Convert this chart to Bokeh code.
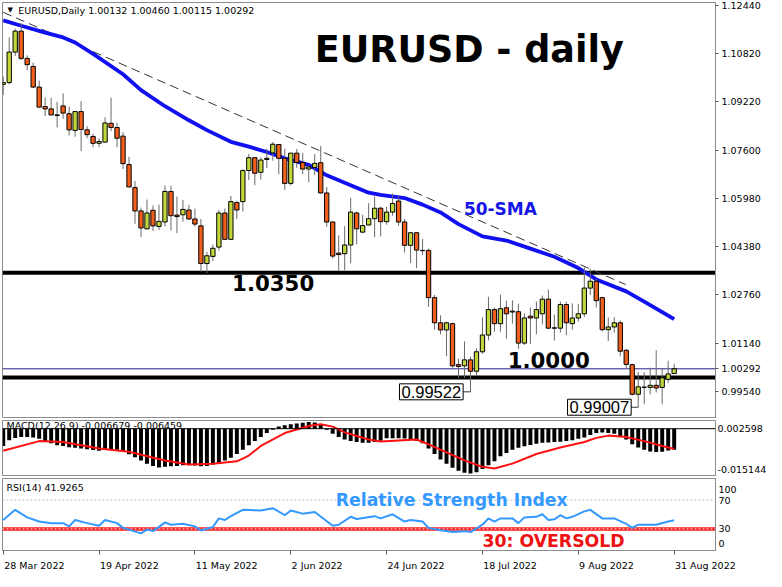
import numpy as np
from bokeh.plotting import figure
from bokeh.layouts import column
from bokeh.models import (Range1d, FixedTicker, NumeralTickFormatter, Label, Span,
                          ColumnDataSource, AllLabels, CustomJSTickFormatter)
from bokeh.embed import file_html
from bokeh.resources import INLINE

# ---------------- data ----------------
# bar index 0 = 28 Mar 2022 ... 112 = 31 Aug 2022 (trading days)
opens = [1.0980, 1.0986, 1.1088, 1.1158, 1.1067, 1.1040, 1.0971, 1.0906, 1.0898, 1.0878,
         1.0908, 1.0882, 1.0826, 1.0889, 1.0828, 1.0806, 1.0783, 1.0787, 1.0850, 1.0836,
         1.0807, 1.0712, 1.0635, 1.0557, 1.0497, 1.0559, 1.0505, 1.0520, 1.0622, 1.0543,
         1.0544, 1.0560, 1.0530, 1.0507, 1.0381, 1.0405, 1.0436, 1.0550, 1.0462, 1.0585,
         1.0588, 1.0692, 1.0735, 1.0686, 1.0729, 1.0751, 1.0779, 1.0733, 1.0649, 1.0750,
         1.0719, 1.0697, 1.0702, 1.0718, 1.0617, 1.0520, 1.0416, 1.0414, 1.0443, 1.0550,
         1.0486, 1.0510, 1.0531, 1.0566, 1.0521, 1.0553, 1.0590, 1.0520, 1.0442, 1.0484,
         1.0424, 1.0425, 1.0267, 1.0183, 1.0159, 1.0180, 1.0043, 1.0039, 1.0059, 1.0021,
         1.0086, 1.0142, 1.0227, 1.0180, 1.0233, 1.0219, 1.0220, 1.0115, 1.0205, 1.0199,
         1.0213, 1.0262, 1.0165, 1.0165, 1.0244, 1.0180, 1.0199, 1.0213, 1.0299, 1.0322,
         1.0267, 1.0160, 1.0169, 1.0183, 1.0091, 1.0043, 0.9944, 0.9968, 0.9967, 0.9974,
         0.9967, 0.9994, 1.00132]
highs = [1.1006, 1.1137, 1.1166, 1.1185, 1.1077, 1.1053, 1.0993, 1.0936, 1.0935, 1.0922,
         1.0950, 1.0906, 1.0891, 1.0924, 1.0840, 1.0815, 1.0800, 1.0870, 1.0936, 1.0852,
         1.0820, 1.0738, 1.0657, 1.0568, 1.0595, 1.0575, 1.0578, 1.0642, 1.0641, 1.0605,
         1.0594, 1.0577, 1.0565, 1.0530, 1.0420, 1.0445, 1.0560, 1.0565, 1.0607, 1.0591,
         1.0697, 1.0748, 1.0737, 1.0736, 1.0765, 1.0787, 1.0781, 1.0765, 1.0750, 1.0764,
         1.0751, 1.0709, 1.0747, 1.0774, 1.0637, 1.0521, 1.0475, 1.0506, 1.0601, 1.0555,
         1.0544, 1.0583, 1.0605, 1.0571, 1.0570, 1.0615, 1.0606, 1.0530, 1.0485, 1.0486,
         1.0463, 1.0431, 1.0276, 1.0208, 1.0186, 1.0184, 1.0063, 1.0121, 1.0070, 1.0097,
         1.0201, 1.0270, 1.0234, 1.0277, 1.0257, 1.0258, 1.0247, 1.0215, 1.0234, 1.0254,
         1.0274, 1.0294, 1.0210, 1.0254, 1.0253, 1.0248, 1.0245, 1.0368, 1.0364, 1.0330,
         1.0270, 1.0201, 1.0202, 1.0191, 1.0095, 1.0046, 1.0018, 1.0018, 1.0033, 1.0091,
         1.0031, 1.0056, 1.00460]
lows = [1.0945, 1.0980, 1.1075, 1.1061, 1.1027, 1.0968, 1.0902, 1.0874, 1.0876, 1.0836,
        1.0865, 1.0809, 1.0805, 1.0757, 1.0800, 1.0770, 1.0770, 1.0785, 1.0824, 1.0770,
        1.0697, 1.0637, 1.0514, 1.0470, 1.0495, 1.0490, 1.0493, 1.0505, 1.0492, 1.0483,
        1.0521, 1.0527, 1.0505, 1.0354, 1.0349, 1.0390, 1.0425, 1.0460, 1.0460, 1.0530,
        1.0555, 1.0660, 1.0643, 1.0662, 1.0700, 1.0725, 1.0680, 1.0627, 1.0642, 1.0701,
        1.0680, 1.0653, 1.0677, 1.0615, 1.0504, 1.0398, 1.0357, 1.0359, 1.0382, 1.0445,
        1.0484, 1.0508, 1.0469, 1.0472, 1.0511, 1.0541, 1.0507, 1.0418, 1.0383, 1.0366,
        1.0409, 1.0236, 1.0160, 1.0144, 1.0072, 1.0033, 0.9998, 0.9998, 0.99522, 1.0006,
        1.0080, 1.0124, 1.0153, 1.0153, 1.0130, 1.0180, 1.0096, 1.0109, 1.0113, 1.0145,
        1.0178, 1.0163, 1.0123, 1.0150, 1.0141, 1.0160, 1.0187, 1.0202, 1.0276, 1.0234,
        1.0154, 1.0122, 1.0150, 1.0071, 1.0031, 0.9940, 0.99007, 0.9911, 0.9944, 0.9950,
        0.9911, 0.9982, 1.00115]
closes = [1.0986, 1.1088, 1.1158, 1.1067, 1.1046, 1.0971, 1.0904, 1.0898, 1.0878, 1.0876,
          1.0884, 1.0828, 1.0889, 1.0829, 1.0812, 1.0783, 1.0789, 1.0851, 1.0836, 1.0800,
          1.0715, 1.0637, 1.0557, 1.0500, 1.0550, 1.0507, 1.0522, 1.0622, 1.0541, 1.0538,
          1.0562, 1.0530, 1.0513, 1.0381, 1.0407, 1.0432, 1.0550, 1.0462, 1.0588, 1.0560,
          1.0692, 1.0735, 1.0683, 1.0727, 1.0733, 1.0780, 1.0733, 1.0649, 1.0750, 1.0719,
          1.0697, 1.0704, 1.0716, 1.0617, 1.0520, 1.0406, 1.0411, 1.0443, 1.0553, 1.0497,
          1.0508, 1.0531, 1.0566, 1.0521, 1.0553, 1.0582, 1.0520, 1.0442, 1.0484, 1.0426,
          1.0425, 1.0267, 1.0183, 1.0159, 1.0183, 1.0039, 1.0037, 1.0059, 1.0021, 1.0086,
          1.0142, 1.0227, 1.0180, 1.0230, 1.0213, 1.0222, 1.0115, 1.0199, 1.0199, 1.0227,
          1.0262, 1.0165, 1.0166, 1.0244, 1.0183, 1.0199, 1.0213, 1.0299, 1.0322, 1.0257,
          1.0160, 1.0169, 1.0183, 1.0088, 1.0044, 0.9944, 0.9969, 0.9967, 0.9974, 0.9965,
          0.9999, 1.0012, 1.00292]

date_ticks = [0, 16, 32, 48, 64, 80, 96, 112]
date_labels = ["28 Mar 2022", "19 Apr 2022", "11 May 2022", "2 Jun 2022",
               "24 Jun 2022", "18 Jul 2022", "9 Aug 2022", "31 Aug 2022"]
price_ticks = [1.12440, 1.10820, 1.09220, 1.07600, 1.05980, 1.04380, 1.02760, 1.01140, 0.99540]

sma_bars = [0, 3, 7, 10, 12, 15, 20, 23, 27, 31, 34, 38, 41, 44, 47, 51, 54, 57, 61, 63,
            67, 70, 73, 76, 80, 84, 88, 92, 96, 99, 104, 107, 112]
sma_vals = [1.1194, 1.1176, 1.1153, 1.1137, 1.1120, 1.1082, 1.1014, 1.0961, 1.0907, 1.0860,
            1.0827, 1.0788, 1.0772, 1.0754, 1.0733, 1.0711, 1.0676, 1.0651, 1.0618, 1.0611,
            1.0600, 1.0578, 1.0552, 1.0513, 1.0472, 1.0458, 1.0431, 1.0404, 1.0366, 1.0328,
            1.0288, 1.0254, 1.0195]

trend_bars = [0, 103.9]
trend_vals = [1.1221, 1.0311]

support_levels = [1.0350, 1.0000]
last_price = 1.00292
marked_lows = [0.99522, 0.99007]
marked_low_bars = [78, 106]

macd_hist = [-0.00546, -0.00362, -0.00291, -0.00260, -0.00260, -0.00281, -0.00321, -0.00393, -0.00464, -0.00525,
             -0.00546, -0.00587, -0.00607, -0.00627, -0.00648, -0.00678, -0.00699, -0.00678, -0.00648, -0.00668,
             -0.00729, -0.00811, -0.00903, -0.01005, -0.01107, -0.01178, -0.01229, -0.01209, -0.01188, -0.01178,
             -0.01158, -0.01158, -0.01168, -0.01188, -0.01178, -0.01137, -0.01076, -0.01005, -0.00923, -0.00801,
             -0.00668, -0.00525, -0.00393, -0.00260, -0.00138, -0.00036, 0.00066, 0.00107, 0.00138, 0.00168,
             0.00189, 0.00209, 0.00199, 0.00128, -0.00036, -0.00158, -0.00260, -0.00342, -0.00393, -0.00423,
             -0.00444, -0.00444, -0.00423, -0.00382, -0.00301, -0.00301, -0.00301, -0.00311, -0.00342, -0.00393,
             -0.00464, -0.00627, -0.00801, -0.00974, -0.01107, -0.01239, -0.01331, -0.01392, -0.01423, -0.01382,
             -0.01280, -0.01158, -0.01035, -0.00872, -0.00770, -0.00668, -0.00607, -0.00556, -0.00515, -0.00474,
             -0.00444, -0.00434, -0.00423, -0.00413, -0.00393, -0.00362, -0.00321, -0.00281, -0.00199, -0.00138,
             -0.00117, -0.00138, -0.00158, -0.00240, -0.00342, -0.00495, -0.00597, -0.00668, -0.00719, -0.00740,
             -0.00729, -0.00689, -0.006679]
signal_bars = [0, 6, 10, 16, 21, 27, 31, 35, 39, 41, 43, 47, 51, 53, 55, 57, 61, 63, 69, 71,
               74, 77, 80, 82, 85, 89, 93, 97, 99, 101, 104, 107, 110, 112]
signal_vals = [-0.00699, -0.00393, -0.00423, -0.00627, -0.00729, -0.01005, -0.01137, -0.01107, -0.01035, -0.00852,
               -0.00546, -0.00138, 0.00087, 0.00138, 0.00066, -0.00117, -0.00342, -0.00403, -0.00342, -0.00495,
               -0.00750, -0.01005, -0.01209, -0.01260, -0.01107, -0.00801, -0.00597, -0.00423, -0.00291, -0.00219,
               -0.00260, -0.00393, -0.00546, -0.006459]

rsi_bars = [0, 2, 3, 4, 6, 8, 10, 11, 12, 14, 16, 17, 19, 20, 23, 24, 25, 27, 28, 30,
            32, 33, 35, 36, 37, 38, 40, 43, 45, 47, 48, 50, 52, 55, 56, 58, 59, 62, 63, 65,
            67, 68, 70, 71, 73, 75, 77, 78, 80, 81, 82, 83, 85, 86, 87, 89, 90, 91, 92, 93,
            94, 95, 97, 98, 100, 102, 104, 105, 106, 109, 111, 112]
rsi_vals = [42.4, 56.5, 51.2, 46.0, 40.2, 38.0, 38.0, 33.5, 42.4, 38.0, 34.4, 42.4, 38.0, 31.4, 23.8, 29.1, 26.9, 38.8, 35.8, 37.1,
            33.5, 27.8, 32.7, 44.6, 42.4, 47.7, 56.5, 55.6, 58.7, 49.0, 55.6, 51.2, 53.4, 34.4, 35.8, 46.8, 43.7, 47.7, 44.6, 50.3,
            40.2, 42.4, 40.2, 31.4, 28.2, 25.6, 26.9, 25.6, 35.8, 44.6, 40.2, 44.6, 44.6, 38.0, 46.0, 46.8, 50.3, 42.4, 43.3, 49.0,
            44.6, 46.8, 54.3, 56.5, 44.6, 44.6, 37.1, 31.4, 35.8, 35.8, 40.2, 41.9]
# MT4 prints the 100 / 0 scale labels just inside the panel edges
rsi_ticks = [85.0, 70, 30, 9.5]
rsi_tick_labels = ["100", "70", "30", "0"]
macd_ticks = [0.0, -0.013]
macd_tick_labels = ["0.002598", "-0.015144"]

# ---------------- styling ----------------
FONT = "DejaVu Sans"
AX_SIZE = "9.5px"
BULL = "#c3d63b"
BEAR = "#f0601c"
FW = 713
XR = Range1d(-0.12, 118.9)
date_label_shift = [5.2, 5.05, 5.3, 4.4, 4.9, 4.6, 4.7, 5.2]


def base_fig(fh, yr, top=2, bottom=0, xaxis=False):
    p = figure(frame_width=FW, frame_height=fh, x_range=XR, y_range=yr,
               x_axis_location="below" if xaxis else None, y_axis_location="right",
               output_backend="svg", toolbar_location=None,
               min_border_left=2, min_border_right=0, min_border_top=top, min_border_bottom=bottom,
               background_fill_color="white", border_fill_color="white",
               outline_line_color="#8c8c8c", outline_line_width=1)
    p.xgrid.visible = False
    p.ygrid.visible = False
    ax = p.yaxis[0]
    ax.major_label_text_font = FONT
    ax.major_label_text_font_size = AX_SIZE
    ax.major_label_text_color = "black"
    ax.axis_line_color = "#8c8c8c"
    ax.major_tick_line_color = "#555555"
    ax.major_tick_out = 3
    ax.major_tick_in = 0
    ax.minor_tick_line_color = None
    ax.major_label_standoff = 3
    ax.major_label_policy = AllLabels()
    return p


def add_text(p, x, y, text, size, color="black", bold=False, font=FONT, **kw):
    p.add_layout(Label(x=x, y=y, text=text, text_font=font, text_font_size=size,
                       text_color=color, text_font_style="bold" if bold else "normal",
                       text_baseline="middle", text_align="left", **kw))


def js_labels(ticks, labels):
    pairs = ",".join("[%r,%r]" % (float(t), s) for t, s in zip(ticks, labels))
    code = ("const m = [%s];"
            "for (const [t, s] of m) { if (Math.abs(tick - t) < 1e-9) return s; }"
            "return '';") % pairs
    return CustomJSTickFormatter(code=code)


# ---------------- main price panel ----------------
p1 = base_fig(416, Range1d(0.98630, 1.125375))
p1.yaxis[0].ticker = FixedTicker(ticks=price_ticks + [last_price])
p1.yaxis[0].formatter = NumeralTickFormatter(format="0.00000")

for lvl in support_levels:
    p1.add_layout(Span(location=lvl, dimension="width", line_color="black", line_width=4, level="underlay"))
p1.add_layout(Span(location=last_price, dimension="width", line_color="#23238c", line_width=1, level="underlay"))

p1.line(trend_bars, trend_vals, line_color="#333333", line_width=1, line_dash="9 5")
p1.line(sma_bars, sma_vals, line_color="#1010f0", line_width=3.8)

o = np.array(opens)
c = np.array(closes)
bars = list(range(len(opens)))
src = ColumnDataSource(dict(
    x=bars, top=np.maximum(o, c).tolist(), bottom=np.minimum(o, c).tolist(),
    high=highs, low=lows, color=[BULL if cc >= oo else BEAR for oo, cc in zip(opens, closes)]))
p1.segment(x0="x", y0="low", x1="x", y1="high", source=src, line_color="#6a6a6a", line_width=1)
p1.vbar(x="x", width=0.72, top="top", bottom="bottom", source=src,
        fill_color="color", line_color="black", line_width=1)

p1.line([76.7, marked_low_bars[0]], [marked_lows[0], marked_lows[0]], line_color="#333333", line_width=1)
p1.line([104.7, marked_low_bars[1]], [marked_lows[1], marked_lows[1]], line_color="#333333", line_width=1)

add_text(p1, 0.7, 1.12278, "\u25bc", "7px")
add_text(p1, 2.5, 1.12278, "EURUSD,Daily  1.00132 1.00460 1.00115 1.00292", AX_SIZE)
add_text(p1, 52.0, 1.10962, "EURUSD - daily", "36.5px", bold=True)
add_text(p1, 38.2, 1.03160, "1.0350", "21.3px", bold=True)
add_text(p1, 84.2, 1.00589, "1.0000", "21.3px", bold=True)
add_text(p1, 76.9, 1.05633, "50-SMA", "17px", color="#1515e8", bold=True)
add_text(p1, 66.15, marked_lows[0], "0.99522", "16.5px", font="Liberation Sans",
         background_fill_color="white", border_line_color="black", border_line_width=1, padding=2)
add_text(p1, 94.2, marked_lows[1], "0.99007", "16.5px", font="Liberation Sans",
         background_fill_color="white", border_line_color="black", border_line_width=1, padding=2)

# ---------------- MACD panel ----------------
p2 = base_fig(56, Range1d(-0.015144, 0.002598))
p2.yaxis[0].ticker = FixedTicker(ticks=macd_ticks)
p2.yaxis[0].formatter = js_labels(macd_ticks, macd_tick_labels)
p2.yaxis[0].major_tick_out = 0
p2.yaxis[0].major_label_standoff = 2
add_text(p2, 0.54, 0.00107, "MACD(12,26,9) -0.006679 -0.006459", AX_SIZE, level="underlay")
p2.add_layout(Span(location=0, dimension="width", line_color="black", line_width=1))
p2.vbar(x=bars, width=0.66, top=macd_hist, bottom=0, fill_color="black", line_color=None)
p2.line(signal_bars, signal_vals, line_color="#ff1010", line_width=2)

# ---------------- RSI panel ----------------
p3 = base_fig(72, Range1d(0, 100), top=2, bottom=2, xaxis=True)
p3.yaxis[0].ticker = FixedTicker(ticks=rsi_ticks)
p3.yaxis[0].formatter = js_labels(rsi_ticks, rsi_tick_labels)
p3.yaxis[0].major_tick_out = 0
xa = p3.xaxis[0]
label_pos = [t + s for t, s in zip(date_ticks, date_label_shift)]
xa.ticker = FixedTicker(ticks=label_pos, minor_ticks=date_ticks)
xa.formatter = js_labels(label_pos, date_labels)
xa.major_label_policy = AllLabels()
xa.major_label_text_font = FONT
xa.major_label_text_font_size = AX_SIZE
xa.major_label_text_color = "black"
xa.axis_line_color = "#8c8c8c"
xa.major_tick_out = 0
xa.major_tick_in = 0
xa.major_tick_line_color = None
xa.minor_tick_out = 4
xa.minor_tick_in = 0
xa.minor_tick_line_color = "#555555"
xa.major_label_standoff = 5

p3.add_layout(Span(location=70, dimension="width", line_color="#c0c0c0", line_width=1, line_dash="2 2"))
p3.add_layout(Span(location=30, dimension="width", line_color="#ff1a1a", line_width=3.5, level="underlay"))
p3.add_layout(Span(location=30, dimension="width", line_color="#f4f4f4", line_width=1, line_dash="2 2", level="underlay"))
p3.line(rsi_bars, rsi_vals, line_color="#3399ff", line_width=2)
add_text(p3, 0.54, 87.2, "RSI(14) 41.9265", AX_SIZE)
add_text(p3, 55.5, 69.6, "Relative Strength Index", "17.3px", color="#3399ff", bold=True)
add_text(p3, 80.0, 12.8, "30: OVERSOLD", "17.3px", color="#ee1111", bold=True)

layout = column(p1, p2, p3, spacing=0)
open("out.html", "w").write(file_html(layout, INLINE))
